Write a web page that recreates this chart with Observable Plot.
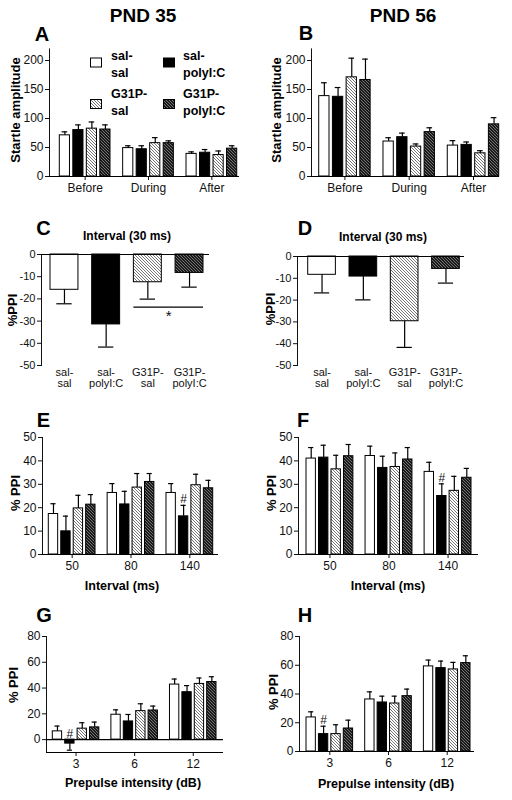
<!DOCTYPE html>
<html><head><meta charset="utf-8">
<script src="https://cdn.jsdelivr.net/npm/d3@7"></script>
<script src="https://cdn.jsdelivr.net/npm/@observablehq/plot@0.6"></script>
<style>
body{margin:0;background:#fff;}
#fig{position:relative;width:512px;height:800px;overflow:hidden;background:#fff;font-family:"Liberation Sans",Arial,sans-serif;}
#fig svg.plot{position:absolute;}
#overlay{position:absolute;left:0;top:0;pointer-events:none;}
</style></head><body>
<svg width="0" height="0" style="position:absolute">
<defs>
<pattern id="hatchLight" patternUnits="userSpaceOnUse" width="3" height="3">
<rect width="3" height="3" fill="#ffffff"/>
<path d="M-1,-1 L4,4 M-1,2 L1,4 M2,-1 L4,1" stroke="#777" stroke-width="1"/>
</pattern>
<pattern id="hatchDark" patternUnits="userSpaceOnUse" width="3" height="3">
<rect width="3" height="3" fill="#1a1a1a"/>
<path d="M-1,-1 L4,4 M-1,2 L1,4 M2,-1 L4,1" stroke="#8c8c8c" stroke-width="0.8"/>
</pattern>
</defs>
</svg>
<div id="fig"></div>
<script>
// ---------- data ----------
const treatments = ["sal-sal", "sal-polyI:C", "G31P-sal", "G31P-polyI:C"];
const treatmentLines = [["sal-", "sal"], ["sal-", "polyI:C"], ["G31P-", "sal"], ["G31P-", "polyI:C"]];
const phases = ["Before", "During", "After"];
const intervals = ["50", "80", "140"];
const intensities = ["3", "6", "12"];

// A: startle amplitude PND 35 (rows: phases, cols: treatments)
const startle35Mean = [[71, 80, 82.5, 81], [49, 47, 57.5, 57.5], [39, 41, 37, 48]];
const startle35Sem = [[6, 9, 11.5, 8], [4, 6, 9.5, 4], [3.5, 5.5, 7, 5]];
// B: startle amplitude PND 56
const startle56Mean = [[138.6, 137.4, 171, 166.4], [60.3, 67.8, 51.6, 76.5], [53.3, 54.5, 40, 89.9]];
const startle56Sem = [[23, 16, 33, 36], [6.5, 7, 4.5, 7.5], [8.5, 5, 4.5, 11.5]];
// C, D: %PPI at 30 ms interval
const ppi30_35Mean = [-15.9, -31.5, -12.5, -8.3];
const ppi30_35Sem = [6.3, 10.2, 7.6, 6.4];
const ppi30_56Mean = [-8.4, -9.2, -29.7, -5.7];
const ppi30_56Sem = [8.3, 10.7, 12, 6.5];
// E, F: %PPI by interval (rows: intervals)
const ppiInt35Mean = [[17.3, 9.9, 19.7, 21.3], [26.3, 21.4, 28.6, 31], [26.3, 16.3, 29.6, 28.3]];
const ppiInt35Sem = [[4.4, 6.5, 5.6, 4.3], [4, 5.6, 6, 3.6], [4, 4.7, 4.7, 3.4]];
const ppiInt56Mean = [[41, 41.4, 36.4, 42], [42.1, 37, 37.4, 40.6], [35.3, 25, 27.2, 32.8]];
const ppiInt56Sem = [[4.7, 5.3, 6, 5], [4.2, 5, 6, 5.1], [4.1, 5.2, 6.2, 4]];
// G, H: %PPI by prepulse intensity (rows: intensities)
const ppiDb35Mean = [[6.4, -3.1, 8.5, 9.5], [19.3, 14.1, 22.1, 22.6], [42.7, 36.8, 43.2, 44.7]];
const ppiDb35Sem = [[4.1, 5.1, 4.6, 4.1], [3.8, 5.4, 5.7, 3.4], [4.3, 5.1, 4.6, 4.1]];
const ppiDb56Mean = [[23.7, 12.1, 12.1, 16], [36.2, 34.1, 33.4, 38.5], [59.2, 58, 57.1, 61.5]];
const ppiDb56Sem = [[3.9, 5.5, 6.5, 5.8], [5.3, 4.4, 5.1, 4.9], [4.4, 4.9, 4.9, 5.1]];

// tick labels
const startleTicks = [0, 50, 100, 150, 200];
const ppi30Ticks = [-50, -40, -30, -20, -10, 0];
const ppiIntTicks = [0, 10, 20, 30, 40, 50];
const ppiDbTicks = [0, 20, 40, 60, 80];

// significance marks
const sigC = [{from: "G31P-sal", to: "G31P-polyI:C", y: -23.7, label: "*"}];
const hashE = [{group: "140", k: 1}];
const hashF = [{group: "140", k: 1}];
const hashG = [{group: "3", k: 1}];
const hashH = [{group: "3", k: 1}];

// ---------- helpers ----------
const FILLS = ["#ffffff", "#000000", "url(#hatchLight)", "url(#hatchDark)"];

function grouped(groups, means, sems) {
  const rows = [];
  groups.forEach((g, gi) => treatments.forEach((t, k) =>
    rows.push({group: g, k, mean: means[gi][k], sem: sems[gi][k]})));
  return rows;
}
function single(means, sems) {
  return treatments.map((t, k) => ({group: t, k, mean: means[k], sem: sems[k]}));
}
const tipOf = d => d.mean + (d.mean < 0 ? -d.sem : d.sem);
const ppiLabel = t => treatmentLines[treatments.indexOf(t)].join("\n");

// cfg positions are page coordinates; converted to svg-local ones here
function panel(cfg) {
  const {left, top, width, height, fx0, fx1, yTopPx, yBotPx, yDomain, yTicks, groups, padInner,
    rows, perBand, baselines, xTickSize, xFormat, fontSize, hash, sig} = cfg;
  const xRange = cfg.xRange.map(v => v - left);
  const band = d3.scaleBand().domain(groups).range(xRange).paddingInner(padInner).paddingOuter(0);
  const bw = band.bandwidth();
  const w = perBand === 1 ? bw : bw / (perBand + (perBand - 1) * 0.33);
  const s = perBand === 1 ? 0 : w * 1.33;
  const cap = w * 0.55;
  const marks = [];
  for (let k = 0; k < 4; k++) {
    const data = rows.filter(d => d.k === k);
    const off = perBand === 1 ? 0 : k * s;
    marks.push(Plot.barY(data, {x: "group", y: "mean", fill: FILLS[k], stroke: "#000", strokeWidth: 1,
      insetLeft: off, insetRight: bw - off - w}));
    marks.push(Plot.ruleX(data, {x: "group", y1: "mean", y2: tipOf, dx: off + w / 2 - bw / 2,
      stroke: "#000", strokeWidth: 1.2}));
    marks.push(Plot.tickY(data, {x: "group", y: tipOf, insetLeft: off + w / 2 - cap / 2,
      insetRight: bw - off - w / 2 - cap / 2, stroke: "#000", strokeWidth: 1.2}));
  }
  marks.push(Plot.ruleY(baselines, {stroke: "#000", strokeWidth: 1.2}));
  if (hash) {
    for (const h of hash) {
      const row = rows.find(d => d.group === h.group && d.k === h.k);
      const off = h.k * s;
      marks.push(Plot.text([row], {x: "group", y: d => Math.max(tipOf(d), 0), text: () => "#",
        dx: off + w / 2 - bw / 2, dy: -2, lineAnchor: "bottom", fontSize: 12}));
    }
  }
  if (sig) {
    marks.push(Plot.ruleY(sig, {y: "y", x1: "from", x2: "to", stroke: "#000", strokeWidth: 1.2}));
    marks.push(Plot.text(sig, {x: "to", y: "y", text: "label", dx: -band.step() / 2, dy: 3,
      lineAnchor: "top", fontSize: 15}));
  }
  const svg = Plot.plot({
    width, height,
    marginLeft: fx0 - left, marginRight: left + width - fx1,
    marginTop: yTopPx - top, marginBottom: top + height - yBotPx,
    x: {domain: groups, range: xRange, paddingInner: padInner, paddingOuter: 0, round: false,
      tickSize: xTickSize, tickPadding: 3, tickFormat: xFormat, label: null},
    y: {domain: yDomain, ticks: yTicks, tickSize: 4, tickPadding: 2, tickFormat: d => String(d),
      label: null, line: true},
    style: {fontFamily: "Liberation Sans, Arial, sans-serif", fontSize: fontSize + "px",
      color: "#111", background: "transparent", overflow: "visible"},
    marks
  });
  svg.classList.add("plot");
  svg.style.left = left + "px";
  svg.style.top = top + "px";
  document.getElementById("fig").appendChild(svg);
}

// A
panel({left: 0, top: 40, width: 256, height: 160, fx0: 49, fx1: 239, yTopPx: 48.4, yBotPx: 176,
  yDomain: [0, 220], yTicks: startleTicks, groups: phases, xRange: [59.3, 236.7],
  padInner: 0.2, rows: grouped(phases, startle35Mean, startle35Sem), perBand: 4,
  baselines: [0], xTickSize: 4, fontSize: 12});
// B
panel({left: 256, top: 40, width: 256, height: 160, fx0: 311, fx1: 499, yTopPx: 48.4, yBotPx: 176,
  yDomain: [0, 220], yTicks: startleTicks, groups: phases, xRange: [318.7, 498.7],
  padInner: 0.2, rows: grouped(phases, startle56Mean, startle56Sem), perBand: 4,
  baselines: [0], xTickSize: 4, fontSize: 12});
// C
panel({left: 0, top: 240, width: 256, height: 160, fx0: 41, fx1: 209, yTopPx: 254, yBotPx: 365,
  yDomain: [-50, 0], yTicks: ppi30Ticks, groups: treatments, xRange: [50, 203],
  padInner: 0.33, rows: single(ppi30_35Mean, ppi30_35Sem), perBand: 1,
  baselines: [0], xTickSize: 0, xFormat: ppiLabel, fontSize: 11, sig: sigC});
// D
panel({left: 256, top: 240, width: 256, height: 160, fx0: 297, fx1: 464, yTopPx: 256, yBotPx: 365,
  yDomain: [-50, 0], yTicks: ppi30Ticks, groups: treatments, xRange: [307.7, 459.3],
  padInner: 0.33, rows: single(ppi30_56Mean, ppi30_56Sem), perBand: 1,
  baselines: [0], xTickSize: 0, xFormat: ppiLabel, fontSize: 11});
// E
panel({left: 0, top: 420, width: 256, height: 150, fx0: 42, fx1: 218, yTopPx: 437, yBotPx: 554,
  yDomain: [0, 50], yTicks: ppiIntTicks, groups: intervals, xRange: [48.3, 212.7],
  padInner: 0.206, rows: grouped(intervals, ppiInt35Mean, ppiInt35Sem), perBand: 4,
  baselines: [0], xTickSize: 4, fontSize: 12, hash: hashE});
// F
panel({left: 256, top: 420, width: 256, height: 150, fx0: 298, fx1: 478, yTopPx: 437, yBotPx: 554,
  yDomain: [0, 50], yTicks: ppiIntTicks, groups: intervals, xRange: [306, 471],
  padInner: 0.206, rows: grouped(intervals, ppiInt56Mean, ppiInt56Sem), perBand: 4,
  baselines: [0], xTickSize: 4, fontSize: 12, hash: hashF});
// G
panel({left: 0, top: 620, width: 256, height: 150, fx0: 46, fx1: 223, yTopPx: 636, yBotPx: 752,
  yDomain: [-10, 80], yTicks: ppiDbTicks, groups: intensities, xRange: [52.3, 216],
  padInner: 0.206, rows: grouped(intensities, ppiDb35Mean, ppiDb35Sem), perBand: 4,
  baselines: [-10, 0], xTickSize: 4, fontSize: 12, hash: hashG});
// H
panel({left: 256, top: 620, width: 256, height: 150, fx0: 299, fx1: 474, yTopPx: 636, yBotPx: 751,
  yDomain: [0, 80], yTicks: ppiDbTicks, groups: intensities, xRange: [306, 470],
  padInner: 0.206, rows: grouped(intensities, ppiDb56Mean, ppiDb56Sem), perBand: 4,
  baselines: [0], xTickSize: 4, fontSize: 12, hash: hashH});

// ---------- annotations: titles, panel letters, axis titles, legend ----------
const NS = "http://www.w3.org/2000/svg";
const ov = document.createElementNS(NS, "svg");
ov.setAttribute("id", "overlay");
ov.setAttribute("width", 512);
ov.setAttribute("height", 800);
ov.setAttribute("font-family", "Liberation Sans, Arial, sans-serif");
document.getElementById("fig").appendChild(ov);
function txt(s, x, y, size, opts = {}) {
  const t = document.createElementNS(NS, "text");
  t.textContent = s;
  t.setAttribute("x", x);
  t.setAttribute("y", y);
  t.setAttribute("font-size", size);
  t.setAttribute("font-weight", opts.weight || "bold");
  t.setAttribute("text-anchor", opts.anchor || "middle");
  t.setAttribute("dominant-baseline", opts.baseline || "central");
  t.setAttribute("fill", "#000");
  if (opts.rotate) t.setAttribute("transform", `rotate(-90 ${x} ${y})`);
  ov.appendChild(t);
}
txt("PND 35", 143, 15, 19);
txt("PND 56", 403, 15, 19);
[["A", 42, 33.5], ["B", 306, 33], ["C", 43.5, 228], ["D", 305, 228],
 ["E", 43.5, 419.5], ["F", 303, 420], ["G", 44, 615], ["H", 305, 615]]
  .forEach(([l, x, y]) => txt(l, x, y, 20));
txt("Startle amplitude", 15, 110, 13, {rotate: true});
txt("Startle amplitude", 276, 110, 13, {rotate: true});
txt("%PPI", 12, 310, 13, {rotate: true});
txt("%PPI", 270, 309, 13, {rotate: true});
txt("% PPI", 15, 493, 13, {rotate: true});
txt("% PPI", 271, 493, 13, {rotate: true});
txt("% PPI", 13, 685, 13, {rotate: true});
txt("% PPI", 273, 692, 13, {rotate: true});
txt("Interval (30 ms)", 127, 236, 12);
txt("Interval (30 ms)", 383, 237, 12);
txt("Interval (ms)", 122, 586, 12.5);
txt("Interval (ms)", 388, 586, 12.5);
txt("Prepulse intensity (dB)", 133, 783, 12.5);
txt("Prepulse intensity (dB)", 386, 784, 12.5);
// legend
const legendPos = [[90, 57.5, 111, 60], [163, 57.5, 183, 60], [90, 99, 111, 98.3], [163, 99, 183, 98.3]];
treatments.forEach((t, k) => {
  const [bx, by, tx, ty] = legendPos[k];
  const r = document.createElementNS(NS, "rect");
  r.setAttribute("x", bx + 0.5); r.setAttribute("y", by + 0.5);
  r.setAttribute("width", 11); r.setAttribute("height", 9);
  r.setAttribute("fill", FILLS[k]); r.setAttribute("stroke", "#000"); r.setAttribute("stroke-width", 1);
  ov.appendChild(r);
  txt(treatmentLines[k][0], tx, ty, 12.5, {anchor: "start", baseline: "alphabetic"});
  txt(treatmentLines[k][1], tx, ty + 16.7, 12.5, {anchor: "start", baseline: "alphabetic"});
});
</script>
</body></html>
